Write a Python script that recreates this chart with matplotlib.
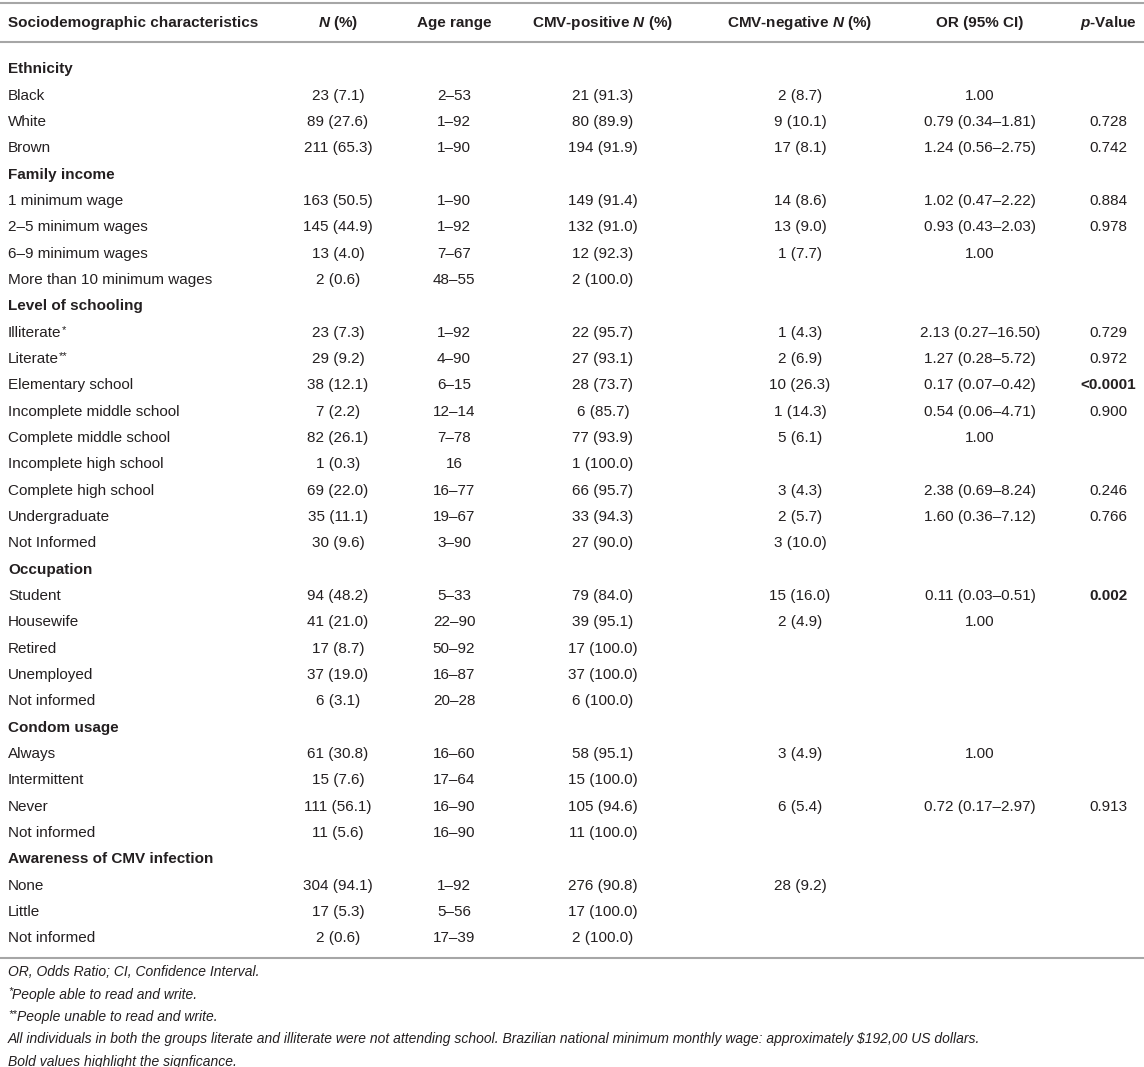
import matplotlib
matplotlib.use("Agg")
import matplotlib.pyplot as plt

plt.rcParams['font.family'] = ['Liberation Sans', 'DejaVu Sans']
plt.rcParams['mathtext.fontset'] = 'custom'
plt.rcParams['mathtext.rm'] = 'Liberation Sans'
plt.rcParams['mathtext.it'] = 'Liberation Sans:italic'
plt.rcParams['mathtext.bf'] = 'Liberation Sans:bold'
plt.rcParams['mathtext.bfit'] = 'Liberation Sans:italic:bold'

headers = ["Sociodemographic characteristics", r"$\mathbfit{N}$ (%)", "Age range",
           r"CMV-positive $\mathbfit{N}$ (%)", r"CMV-negative $\mathbfit{N}$ (%)",
           "OR (95% CI)", r"$\mathbfit{p}$-Value"]

sections = ["Ethnicity", "Family income", "Level of schooling", "Occupation",
            "Condom usage", "Awareness of CMV infection"]

labels = ["Ethnicity", "Black", "White", "Brown",
          "Family income", "1 minimum wage", "2–5 minimum wages", "6–9 minimum wages",
          "More than 10 minimum wages",
          "Level of schooling", "Illiterate*", "Literate**", "Elementary school",
          "Incomplete middle school", "Complete middle school", "Incomplete high school",
          "Complete high school", "Undergraduate", "Not Informed",
          "Occupation", "Student", "Housewife", "Retired", "Unemployed", "Not informed",
          "Condom usage", "Always", "Intermittent", "Never", "Not informed",
          "Awareness of CMV infection", "None", "Little", "Not informed"]

n_pct = ["", "23 (7.1)", "89 (27.6)", "211 (65.3)",
         "", "163 (50.5)", "145 (44.9)", "13 (4.0)", "2 (0.6)",
         "", "23 (7.3)", "29 (9.2)", "38 (12.1)", "7 (2.2)", "82 (26.1)", "1 (0.3)",
         "69 (22.0)", "35 (11.1)", "30 (9.6)",
         "", "94 (48.2)", "41 (21.0)", "17 (8.7)", "37 (19.0)", "6 (3.1)",
         "", "61 (30.8)", "15 (7.6)", "111 (56.1)", "11 (5.6)",
         "", "304 (94.1)", "17 (5.3)", "2 (0.6)"]

age_range = ["", "2–53", "1–92", "1–90",
             "", "1–90", "1–92", "7–67", "48–55",
             "", "1–92", "4–90", "6–15", "12–14", "7–78", "16", "16–77", "19–67", "3–90",
             "", "5–33", "22–90", "50–92", "16–87", "20–28",
             "", "16–60", "17–64", "16–90", "16–90",
             "", "1–92", "5–56", "17–39"]

cmv_pos = ["", "21 (91.3)", "80 (89.9)", "194 (91.9)",
           "", "149 (91.4)", "132 (91.0)", "12 (92.3)", "2 (100.0)",
           "", "22 (95.7)", "27 (93.1)", "28 (73.7)", "6 (85.7)", "77 (93.9)", "1 (100.0)",
           "66 (95.7)", "33 (94.3)", "27 (90.0)",
           "", "79 (84.0)", "39 (95.1)", "17 (100.0)", "37 (100.0)", "6 (100.0)",
           "", "58 (95.1)", "15 (100.0)", "105 (94.6)", "11 (100.0)",
           "", "276 (90.8)", "17 (100.0)", "2 (100.0)"]

cmv_neg = ["", "2 (8.7)", "9 (10.1)", "17 (8.1)",
           "", "14 (8.6)", "13 (9.0)", "1 (7.7)", "",
           "", "1 (4.3)", "2 (6.9)", "10 (26.3)", "1 (14.3)", "5 (6.1)", "",
           "3 (4.3)", "2 (5.7)", "3 (10.0)",
           "", "15 (16.0)", "2 (4.9)", "", "", "",
           "", "3 (4.9)", "", "6 (5.4)", "",
           "", "28 (9.2)", "", ""]

odds_ratio = ["", "1.00", "0.79 (0.34–1.81)", "1.24 (0.56–2.75)",
              "", "1.02 (0.47–2.22)", "0.93 (0.43–2.03)", "1.00", "",
              "", "2.13 (0.27–16.50)", "1.27 (0.28–5.72)", "0.17 (0.07–0.42)",
              "0.54 (0.06–4.71)", "1.00", "", "2.38 (0.69–8.24)", "1.60 (0.36–7.12)", "",
              "", "0.11 (0.03–0.51)", "1.00", "", "", "",
              "", "1.00", "", "0.72 (0.17–2.97)", "",
              "", "", "", ""]

p_value = ["", "", "0.728", "0.742",
           "", "0.884", "0.978", "", "",
           "", "0.729", "0.972", "<0.0001", "0.900", "", "", "0.246", "0.766", "",
           "", "0.002", "", "", "", "",
           "", "", "", "0.913", "",
           "", "", "", ""]

bold_p = ["<0.0001", "0.002"]

footnotes = ["OR, Odds Ratio; CI, Confidence Interval.",
             "*People able to read and write.",
             "**People unable to read and write.",
             "All individuals in both the groups literate and illiterate were not attending school. "
             "Brazilian national minimum monthly wage: approximately $192,00 US dollars.",
             "Bold values highlight the signficance."]

W, H = 1144, 1067
fig = plt.figure(figsize=(W / 100, H / 100), dpi=100)
ax = fig.add_axes([0, 0, 1, 1])
ax.set_xlim(0, W)
ax.set_ylim(H, 0)
ax.axis('off')

txt = '#231f20'
line_col = '#a6a6a6'
fs = 11
base = 5.5  # centre -> baseline offset in px

col_x = [8, 338, 454, 603, 800, 980, 1108]

# rules
for yy in [3, 42, 958]:
    ax.plot([0, W], [yy, yy], color=line_col, lw=1.5, solid_capstyle='butt')

# header
for i, h in enumerate(headers):
    ax.text(col_x[i], 22 + base, h, ha='left' if i == 0 else 'center', va='baseline',
            fontsize=fs, fontweight='bold', color=txt)

y0, step = 68, 26.33
columns = [n_pct, age_range, cmv_pos, cmv_neg, odds_ratio, p_value]
for r, lab in enumerate(labels):
    y = y0 + r * step + base
    is_sec = lab in sections
    stars = len(lab) - len(lab.rstrip('*'))
    t = ax.text(col_x[0], y, lab.rstrip('*'), ha='left', va='baseline', fontsize=fs,
                fontweight='bold' if is_sec else 'normal', color=txt)
    if stars:
        ax.annotate('*' * stars, xy=(1, y - 4), xycoords=(t, 'data'),
                    ha='left', va='baseline', fontsize=8, color=txt)
    for c, col in enumerate(columns):
        val = col[r]
        if not val:
            continue
        ax.text(col_x[c + 1], y, val, ha='center', va='baseline', fontsize=fs,
                fontweight='bold' if val in bold_p else 'normal', color=txt)

fy0, fstep = 971, 22.5
for k, note in enumerate(footnotes):
    fy = fy0 + k * fstep + 5
    stars = len(note) - len(note.lstrip('*'))
    if stars:
        s = ax.text(8, fy - 4, '*' * stars, ha='left', va='baseline', fontsize=8,
                    fontstyle='italic', color=txt)
        ax.annotate(note.lstrip('*'), xy=(1, fy), xycoords=(s, 'data'),
                    ha='left', va='baseline', fontsize=10, fontstyle='italic',
                    color=txt, parse_math=False)
    else:
        ax.text(8, fy, note, ha='left', va='baseline', fontsize=10,
                fontstyle='italic', color=txt, parse_math=False)

fig.savefig('out.png', dpi=100)
